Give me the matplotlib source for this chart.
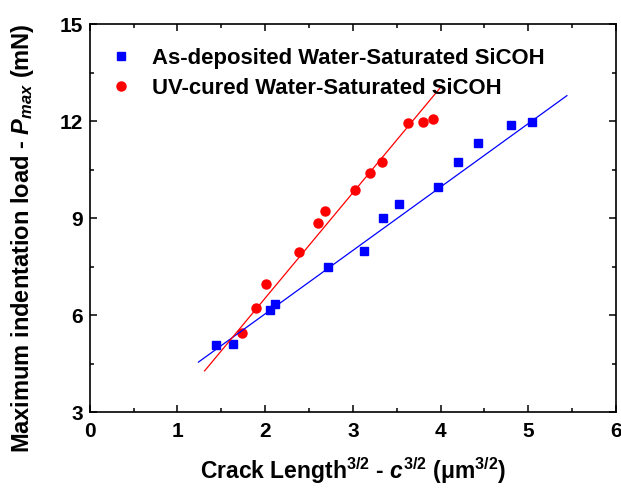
import numpy as np
import matplotlib
matplotlib.use("Agg")
import matplotlib.pyplot as plt
from matplotlib.ticker import MultipleLocator

plt.rcParams["font.family"] = ["Liberation Sans", "DejaVu Sans"]
plt.rcParams["font.weight"] = "bold"
plt.rcParams["mathtext.fontset"] = "custom"
plt.rcParams["mathtext.rm"] = "Liberation Sans:bold"
plt.rcParams["mathtext.it"] = "Liberation Sans:bold:italic"
plt.rcParams["mathtext.bf"] = "Liberation Sans:bold"

# As-deposited water-saturated SiCOH
asdep_x = [1.44, 1.63, 2.05, 2.11, 2.72, 3.13, 3.34, 3.53, 3.975, 4.20, 4.43, 4.80, 5.04]
asdep_y = [5.08, 5.11, 6.15, 6.36, 7.49, 7.98, 9.00, 9.44, 9.98, 10.73, 11.34, 11.89, 11.98]
asdep_fit = (1.962, 2.12)          # slope, intercept
asdep_fit_range = (1.24, 5.44)

# UV-cured water-saturated SiCOH
uv_x = [1.74, 1.90, 2.01, 2.39, 2.60, 2.68, 3.03, 3.20, 3.33, 3.63, 3.80, 3.91]
uv_y = [5.44, 6.24, 6.98, 7.95, 8.86, 9.24, 9.89, 10.39, 10.73, 11.94, 11.97, 12.08]
uv_fit = (3.26, 0.01)
uv_fit_range = (1.31, 4.01)

x_ticks = [0, 1, 2, 3, 4, 5, 6]
y_ticks = [3, 6, 9, 12, 15]

fig = plt.figure(figsize=(6.21, 4.92), dpi=100)
ax = fig.add_axes([0.1444, 0.1620, 0.8476, 0.7886])

blue = "#0000FF"
red = "#FF0000"

ax.plot(asdep_x, asdep_y, linestyle="none", marker="s", markersize=6.2,
        color=blue, label="As-deposited Water-Saturated SiCOH")
ax.plot(uv_x, uv_y, linestyle="none", marker="o", markersize=6.5,
        color=red, label="UV-cured Water-Saturated SiCOH")

for (m, b), (x0, x1), c in [(asdep_fit, asdep_fit_range, blue),
                             (uv_fit, uv_fit_range, red)]:
    xs = np.array([x0, x1])
    ax.plot(xs, m * xs + b, color=c, linewidth=0.9)

ax.set_xlim(0, 6)
ax.set_ylim(3, 15)
ax.set_xticks(x_ticks)
ax.set_yticks(y_ticks)
ax.xaxis.set_minor_locator(MultipleLocator(0.5))
ax.yaxis.set_minor_locator(MultipleLocator(1.5))
ax.tick_params(which="both", direction="in", top=True, right=True,
               width=1.1, labelsize=15)
ax.tick_params(axis="x", pad=7)
ax.tick_params(axis="y", pad=5)
ax.tick_params(which="major", length=5)
ax.tick_params(which="minor", length=3)
for lab in ax.get_xticklabels() + ax.get_yticklabels():
    lab.set_fontweight("bold")
for s in ax.spines.values():
    s.set_linewidth(1.2)

ax.set_xlabel("Crack Length$^{3/2}$ - $c^{3/2}$ (μm$^{3/2}$)",
              fontsize=16.5, fontweight="bold")
ax.xaxis.set_label_coords(0.5, -0.112)
ax.set_ylabel("Maximum indentation load - $P_{max}$ (mN)",
              fontsize=17, fontweight="bold")
ax.yaxis.set_label_coords(-0.102, 0.45)

leg = ax.legend(loc="upper left", bbox_to_anchor=(0.0, 0.985), frameon=False,
                handletextpad=0.8, borderaxespad=0.4, labelspacing=0.4,
                handlelength=1.2, prop={"weight": "bold", "size": 15.9})

fig.savefig("out.png", dpi=100)
